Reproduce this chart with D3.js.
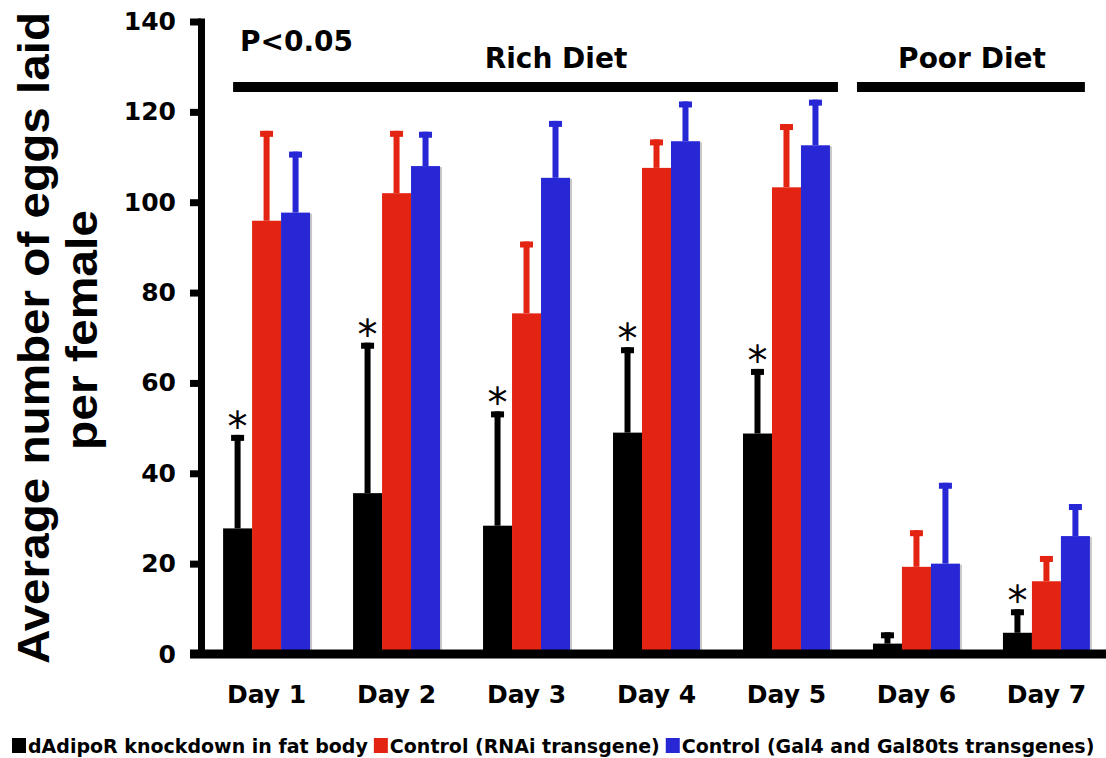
<!DOCTYPE html>
<html>
<head>
<meta charset="utf-8">
<script src="https://cdn.jsdelivr.net/npm/d3@7"></script>
<style>
  body { margin: 0; background: white; }
  text { font-family: "DejaVu Sans", Verdana, sans-serif; font-weight: bold; }
</style>
</head>
<body>
<svg id="chart" width="1106" height="758"></svg>
<script>
const days = ["Day 1", "Day 2", "Day 3", "Day 4", "Day 5", "Day 6", "Day 7"]
const seriesNames = ["dAdipoR knockdown in fat body", "Control (RNAi transgene)", "Control (Gal4 and Gal80ts transgenes)"]
const seriesColors = ["#000000", "#e32412", "#2727d6"]

const knockdown = [27.8, 35.6, 28.4, 49, 48.8, 2.3, 4.7]
const knockdownErr = [20.7, 33.3, 25.3, 18.9, 14.3, 2.5, 5.2]
const rnai = [95.9, 102, 75.4, 107.6, 103.3, 19.3, 16.1]
const rnaiErr = [19.9, 13.8, 15.9, 6.3, 14, 8.1, 5.6]
const gal4 = [97.7, 108, 105.4, 113.5, 112.6, 20, 26.1]
const gal4Err = [13.5, 7.6, 12.6, 8.8, 10.1, 17.9, 7.1]
const significant = [true, true, true, true, true, false, true]

const yTicks = [0, 20, 40, 60, 80, 100, 120, 140]
const yTitle = ["Average number of eggs laid", "per female"]
const diets = [{name: "Rich Diet", from: "Day 1", to: "Day 5"}, {name: "Poor Diet", from: "Day 6", to: "Day 7"}]
const pLabel = "P<0.05"

const svg = d3.select("#chart")

const x = d3.scaleBand()
            .domain(days)
            .range([201, 1112])
            .paddingInner(0.331)
            .paddingOuter(0.17)

const xs = d3.scaleBand()
             .domain(d3.range(3))
             .range([0, x.bandwidth()])

const y = d3.scaleLinear()
            .domain([0, 140])
            .range([654, 21.5])

// rows: one per day and series
const values = [knockdown, rnai, gal4]
const errors = [knockdownErr, rnaiErr, gal4Err]
const rows = []
days.forEach((d, i) => {
    for (let s = 0; s < 3; s++) {
        rows.push({day: d, s: s, v: values[s][i], e: errors[s][i], star: s === 0 && significant[i]})
    }
})

// soft shadow behind bars
svg.append("g")
   .selectAll("rect")
   .data(rows)
   .join("rect")
   .attr("x", d => x(d.day) + xs(d.s) + 2)
   .attr("y", d => y(d.v) + 1)
   .attr("width", xs.bandwidth())
   .attr("height", d => y(0) - y(d.v))
   .attr("fill", "#c8c8c8")

// error bars
const err = svg.append("g")
err.selectAll(".stem")
   .data(rows)
   .join("rect")
   .attr("class", "stem")
   .attr("x", d => x(d.day) + xs(d.s) + xs.bandwidth() / 2 - 3)
   .attr("y", d => y(d.v + d.e))
   .attr("width", 6)
   .attr("height", d => y(d.v) - y(d.v + d.e))
   .attr("fill", d => seriesColors[d.s])
err.selectAll(".cap")
   .data(rows)
   .join("rect")
   .attr("class", "cap")
   .attr("x", d => x(d.day) + xs(d.s) + xs.bandwidth() / 2 - 6.5)
   .attr("y", d => y(d.v + d.e))
   .attr("width", 13)
   .attr("height", 6)
   .attr("fill", d => seriesColors[d.s])

// bars
svg.append("g")
   .selectAll("rect")
   .data(rows)
   .join("rect")
   .attr("x", d => x(d.day) + xs(d.s))
   .attr("y", d => y(d.v))
   .attr("width", xs.bandwidth())
   .attr("height", d => y(0) - y(d.v))
   .attr("fill", d => seriesColors[d.s])

// asterisks
svg.append("g")
   .selectAll("text")
   .data(rows.filter(d => d.star))
   .join("text")
   .attr("x", d => x(d.day) + xs(d.s) + xs.bandwidth() / 2)
   .attr("y", d => y(d.v + d.e) + 6)
   .attr("text-anchor", "middle")
   .style("font-size", "40px")
   .style("font-weight", "normal")
   .text("*")

// y axis
const yAxis = svg.append("g")
   .attr("transform", "translate(201,0)")
   .call(d3.axisLeft(y).tickValues(yTicks).tickSize(11).tickSizeOuter(0).tickPadding(14))
yAxis.select(".domain").attr("stroke-width", 7).attr("stroke-linecap", "square")
yAxis.selectAll(".tick line").attr("stroke-width", 7)
yAxis.selectAll(".tick text")
     .style("font-size", "25px")
     .attr("fill", "black")

// x baseline
svg.append("line")
   .attr("x1", 190)
   .attr("x2", 1106)
   .attr("y1", y(0))
   .attr("y2", y(0))
   .attr("stroke", "black")
   .attr("stroke-width", 9)

const xAxis = svg.append("g")
   .attr("transform", "translate(0," + y(0) + ")")
   .call(d3.axisBottom(x).tickSize(0).tickPadding(0))
xAxis.select(".domain").remove()
xAxis.selectAll(".tick text")
     .attr("dy", null)
     .attr("y", 49)
     .style("font-size", "25px")
     .attr("fill", "black")

// y title
const titlePos = [{bx: 49, cy: 338, len: 652}, {bx: 97, cy: 330, len: 240}]
svg.append("g")
   .selectAll("text")
   .data(yTitle)
   .join("text")
   .attr("transform", (d, i) => "translate(" + titlePos[i].bx + "," + titlePos[i].cy + ") rotate(-90)")
   .attr("text-anchor", "middle")
   .attr("textLength", (d, i) => titlePos[i].len)
   .attr("lengthAdjust", "spacingAndGlyphs")
   .style("font-family", "'Liberation Sans', Arial, sans-serif")
   .style("font-size", "45px")
   .text(d => d)

// diet brackets
const bracketEnds = {"Rich Diet": [10, 8], "Poor Diet": [-16, -5]}
const labelX = {"Rich Diet": 556, "Poor Diet": 972}
diets.forEach(d => {
    const off = bracketEnds[d.name]
    svg.append("line")
       .attr("x1", x(d.from) + off[0])
       .attr("x2", x(d.to) + x.bandwidth() + off[1])
       .attr("y1", 87)
       .attr("y2", 87)
       .attr("stroke", "black")
       .attr("stroke-width", 10)
    svg.append("text")
       .attr("x", labelX[d.name])
       .attr("y", 68)
       .attr("text-anchor", "middle")
       .style("font-size", "28px")
       .text(d.name)
})

svg.append("text")
   .attr("x", 240)
   .attr("y", 51)
   .style("font-size", "28px")
   .text(pLabel)

// legend
let lx = 12
seriesNames.forEach((name, i) => {
    svg.append("rect")
       .attr("x", lx)
       .attr("y", 738)
       .attr("width", 14)
       .attr("height", 15)
       .attr("fill", seriesColors[i])
    const t = svg.append("text")
       .attr("x", lx + 16)
       .attr("y", 753)
       .style("font-size", "19px")
       .text(name)
    lx += 16 + t.node().getComputedTextLength() + 6
})
</script>
</body>
</html>
